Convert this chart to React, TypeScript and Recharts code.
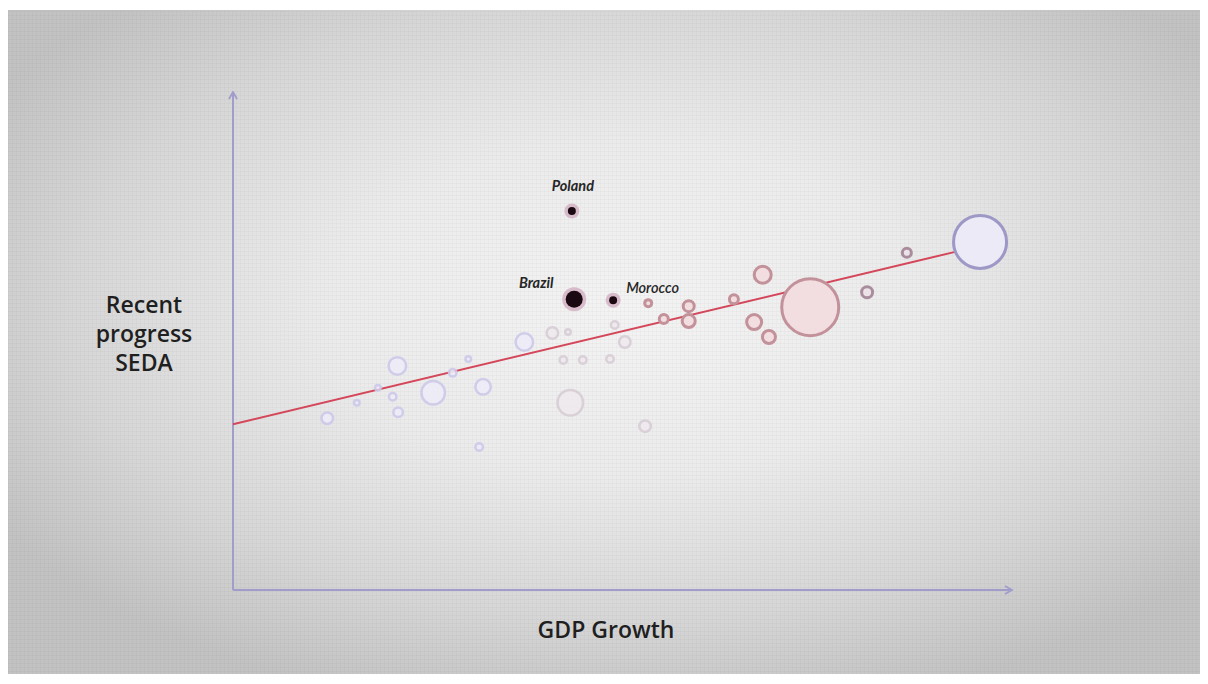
import React from 'react';
import { ScatterChart, Scatter, XAxis, YAxis, ZAxis, LabelList } from 'recharts';

// x = GDP growth, y = recent progress (SEDA), z = bubble size
const faintBlue = [
  { x: 12.1, y: 34.5, z: 49 },
  { x: 15.9, y: 37.6, z: 16 },
  { x: 18.6, y: 40.6, z: 16 },
  { x: 20.5, y: 38.8, z: 25 },
  { x: 21.1, y: 45.0, z: 100 },
  { x: 21.2, y: 35.7, z: 36 },
  { x: 25.7, y: 39.6, z: 169 },
  { x: 28.2, y: 43.6, z: 25 },
  { x: 30.2, y: 46.4, z: 16 },
  { x: 32.1, y: 40.8, z: 81 },
  { x: 31.6, y: 28.7, z: 25 },
  { x: 37.4, y: 49.8, z: 100 },
];

const faintGrey = [
  { x: 41.0, y: 51.6, z: 49 },
  { x: 43.0, y: 51.8, z: 16 },
  { x: 43.3, y: 37.6, z: 196 },
  { x: 42.4, y: 46.2, z: 25 },
  { x: 44.9, y: 46.2, z: 25 },
  { x: 48.4, y: 46.4, z: 25 },
  { x: 49.0, y: 53.2, z: 25 },
  { x: 50.3, y: 49.8, z: 49 },
  { x: 52.9, y: 32.9, z: 49 },
];

const rose = [
  { x: 53.3, y: 57.6, z: 25 },
  { x: 55.3, y: 54.4, z: 36 },
  { x: 58.5, y: 57.0, z: 49 },
  { x: 58.5, y: 54.0, z: 64 },
  { x: 64.3, y: 58.4, z: 36 },
  { x: 68.0, y: 63.3, z: 100 },
  { x: 66.9, y: 53.8, z: 81 },
  { x: 68.8, y: 50.8, z: 64 },
  { x: 74.1, y: 56.8, z: 900 },
];

const mauve = [
  { x: 81.4, y: 59.8, z: 49 },
  { x: 86.5, y: 67.7, z: 36 },
];

const lavender = [{ x: 95.9, y: 69.9, z: 784 }];

const highlighted = [
  { name: 'Poland', x: 43.5, y: 76.1, z: 56 },
  { name: 'Brazil', x: 43.8, y: 58.4, z: 144 },
  { name: 'Morocco', x: 48.8, y: 58.2, z: 56 },
];

const trendX = [0, 92.7];
const trendY = [33.3, 67.9];
const trend = trendX.map((x, i) => ({ x, y: trendY[i] }));

const AXIS = '#a19dcb';

const ring = (stroke: string, fill: string, width: number, opacity = 1) => (props: any) => {
  const r = props.width ? props.width / 2 : Math.sqrt((props.size || 0) / Math.PI);
  return (
    <circle
      cx={props.cx}
      cy={props.cy}
      r={Math.max(r - width / 2, 1)}
      fill={fill}
      stroke={stroke}
      strokeWidth={width}
      opacity={opacity}
    />
  );
};

const DarkDot = (props: any) => {
  const r = props.width ? props.width / 2 : Math.sqrt((props.size || 0) / Math.PI);
  return (
    <g>
      <circle cx={props.cx} cy={props.cy} r={r} fill="#cfa9bd" opacity={0.75} />
      <circle cx={props.cx} cy={props.cy} r={Math.max(r - 3.5, 2)} fill="#1b0912" />
    </g>
  );
};

const labelPlacement: Record<string, { dx: number; dy: number; anchor: string; weight: number }> = {
  Poland: { dx: 1, dy: -20, anchor: 'middle', weight: 700 },
  Brazil: { dx: -38, dy: -11, anchor: 'middle', weight: 700 },
  Morocco: { dx: 13, dy: -7, anchor: 'start', weight: 600 },
};

const PointLabel = (props: any) => {
  const { x, y, width, height, value } = props;
  const p = labelPlacement[value];
  if (!p) return null;
  const cx = x + width / 2;
  const cy = y + height / 2;
  return (
    <text
      x={cx + p.dx}
      y={cy + p.dy}
      textAnchor={p.anchor}
      fontFamily="Lato, sans-serif"
      fontStyle="italic"
      fontWeight={p.weight}
      fontSize={14.5}
      fill="#262626"
    >
      {value}
    </text>
  );
};

const axisTitle: React.CSSProperties = {
  position: 'absolute',
  fontFamily: '"Open Sans", sans-serif',
  fontWeight: 600,
  fontSize: 23,
  lineHeight: '29px',
  color: '#1f1f1f',
  textAlign: 'center',
  transform: 'translateX(-50%)',
  whiteSpace: 'nowrap',
};

export default function App() {
  return (
    <div
      style={{
        position: 'relative',
        top: 2,
        width: 1192,
        height: 666,
        overflow: 'hidden',
        background:
          'repeating-linear-gradient(0deg, rgba(0,0,0,0.025) 0 1px, transparent 1px 4px), ' +
          'repeating-linear-gradient(90deg, rgba(0,0,0,0.02) 0 1px, transparent 1px 4px), ' +
          'radial-gradient(ellipse 62% 62% at 52% 45%, #f3f3f3 0%, #ebebeb 40%, #d6d6d6 75%, #c2c2c2 100%)',
      }}
    >
      <ScatterChart width={1192} height={666} margin={{ top: 82, right: 188, bottom: 85, left: 224 }}>
        <defs>
          <marker
            id="arrowHead"
            viewBox="0 0 10 10"
            refX="8.5"
            refY="5"
            markerWidth="5"
            markerHeight="5"
            orient="auto-start-reverse"
          >
            <path d="M1.5,1 L8.5,5 L1.5,9" fill="none" stroke={AXIS} strokeWidth={1.8} />
          </marker>
        </defs>
        <XAxis
          type="number"
          dataKey="x"
          domain={[0, 100]}
          height={1}
          tick={false}
          tickLine={false}
          axisLine={{ stroke: AXIS, strokeWidth: 2, markerEnd: 'url(#arrowHead)' }}
        />
        <YAxis
          type="number"
          dataKey="y"
          domain={[0, 100]}
          width={1}
          tick={false}
          tickLine={false}
          axisLine={{ stroke: AXIS, strokeWidth: 2, markerStart: 'url(#arrowHead)' }}
        />
        <ZAxis type="number" dataKey="z" domain={[0, 900]} range={[0, 900 * Math.PI]} />

        <Scatter
          data={trend}
          line={{ stroke: '#d44659', strokeWidth: 2 }}
          shape={() => <g />}
          isAnimationActive={false}
        />
        <Scatter data={faintBlue} shape={ring('#cccae9', '#eeedf8', 2.5, 0.9)} isAnimationActive={false} />
        <Scatter data={faintGrey} shape={ring('#d8cdd6', '#efeaee', 2.5, 0.9)} isAnimationActive={false} />
        <Scatter data={rose} shape={ring('#c29199', '#f2dde0', 3)} isAnimationActive={false} />
        <Scatter data={mauve} shape={ring('#a98d9f', '#ece3e9', 3)} isAnimationActive={false} />
        <Scatter data={lavender} shape={ring('#9d98c6', '#ebeaf6', 3)} isAnimationActive={false} />
        <Scatter data={highlighted} shape={DarkDot} isAnimationActive={false}>
          <LabelList dataKey="name" content={PointLabel} />
        </Scatter>
      </ScatterChart>

      <div style={{ ...axisTitle, left: 136, top: 280 }}>
        Recent
        <br />
        progress
        <br />
        SEDA
      </div>
      <div style={{ ...axisTitle, left: 598, top: 605 }}>GDP Growth</div>
    </div>
  );
}
